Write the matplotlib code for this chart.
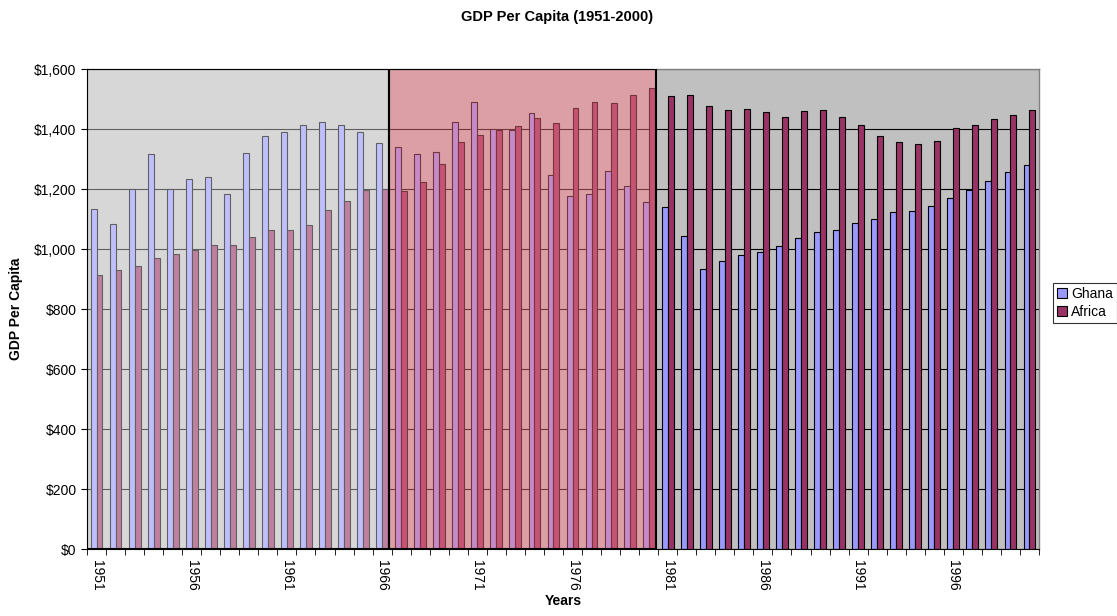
import matplotlib
matplotlib.use("Agg")
import matplotlib.pyplot as plt
from matplotlib.patches import Rectangle
from matplotlib.ticker import FuncFormatter
import numpy as np

plt.rcParams['font.family'] = ['Liberation Sans', 'DejaVu Sans']

years = list(range(1951, 2001))
ghana = [1133, 1084, 1201, 1317, 1201, 1234, 1242, 1186, 1320, 1378,
         1390, 1414, 1423, 1414, 1392, 1355, 1340, 1318, 1325, 1423,
         1490, 1400, 1398, 1453, 1247, 1179, 1183, 1261, 1210, 1157,
         1141, 1044, 934, 961, 980, 990, 1010, 1037, 1059, 1063,
         1089, 1100, 1123, 1127, 1146, 1172, 1198, 1228, 1258, 1281]
africa = [915, 930, 945, 971, 983, 998, 1013, 1013, 1042, 1065,
          1065, 1080, 1132, 1162, 1197, 1201, 1193, 1223, 1284, 1357,
          1381, 1398, 1412, 1439, 1420, 1472, 1490, 1487, 1514, 1537,
          1510, 1514, 1477, 1464, 1469, 1458, 1442, 1461, 1466, 1442,
          1416, 1378, 1357, 1352, 1361, 1404, 1416, 1434, 1447, 1464]
label_years = years[::5]

fig = plt.figure(figsize=(11.17, 6.16), dpi=100)
ax = fig.add_axes([87/1117, 1-549.3/616, (1039-87)/1117, (549.3-69.3)/616])
ax.set_facecolor('#C0C0C0')

x = np.arange(len(years))
w = 0.31
ax.bar(x - w/2, ghana, w, color='#9999FF', edgecolor='black', linewidth=0.8,
       label='Ghana', zorder=2)
ax.bar(x + w/2, africa, w, color='#993366', edgecolor='black', linewidth=0.8,
       label='Africa', zorder=2)

ax.set_xlim(-0.5, len(years) - 0.5)
ax.set_ylim(0, 1600)
ax.set_yticks(np.arange(0, 1601, 200))
ax.yaxis.set_major_formatter(FuncFormatter(lambda v, p: '${:,.0f}'.format(v)))
ax.grid(axis='y', color='black', linewidth=0.8, zorder=1)
ax.set_axisbelow(True)

# overlay shaded periods
ax.add_patch(Rectangle((-0.5, 0), 15.86, 1600, facecolor=(1, 1, 1, 0.38),
                       edgecolor='black', linewidth=1.5, zorder=3))
ax.add_patch(Rectangle((15.36, 0), 14.02, 1600, facecolor=(1, 0.47, 0.53, 0.45),
                       edgecolor='black', linewidth=1.5, zorder=3))

ax.set_xticks(np.arange(-0.5, len(years), 1), minor=True)
ax.set_xticks([years.index(y) for y in label_years],
              [str(y) for y in label_years], rotation=-90)
ax.tick_params(axis='x', which='major', length=0, pad=8, labelsize=10)
ax.tick_params(axis='x', which='minor', length=4, color='black', direction='out')
ax.tick_params(axis='y', length=4, labelsize=10, color='black')

for s in ['top', 'right']:
    ax.spines[s].set_color('#808080')
    ax.spines[s].set_linewidth(1)
ax.spines['left'].set_color('black')
ax.spines['bottom'].set_color('black')

ax.set_xlabel('Years', fontsize=10, fontweight='bold', labelpad=2)
ax.set_ylabel('GDP Per Capita', fontsize=10, fontweight='bold', labelpad=8)
fig.text(557/1117, 1-17/616, 'GDP Per Capita (1951-2000)', ha='center', va='center',
         fontsize=10.5, fontweight='bold')

leg = ax.legend(loc='upper left', bbox_to_anchor=(1053/1117, 1-283/616),
                bbox_transform=fig.transFigure, frameon=True, fancybox=False,
                fontsize=10, handlelength=0.7, handleheight=0.7, handletextpad=0.3,
                borderpad=0.3, labelspacing=0.25, borderaxespad=0)
leg.get_frame().set_edgecolor('black')
leg.get_frame().set_linewidth(0.8)

fig.savefig('out.png', dpi=100)
